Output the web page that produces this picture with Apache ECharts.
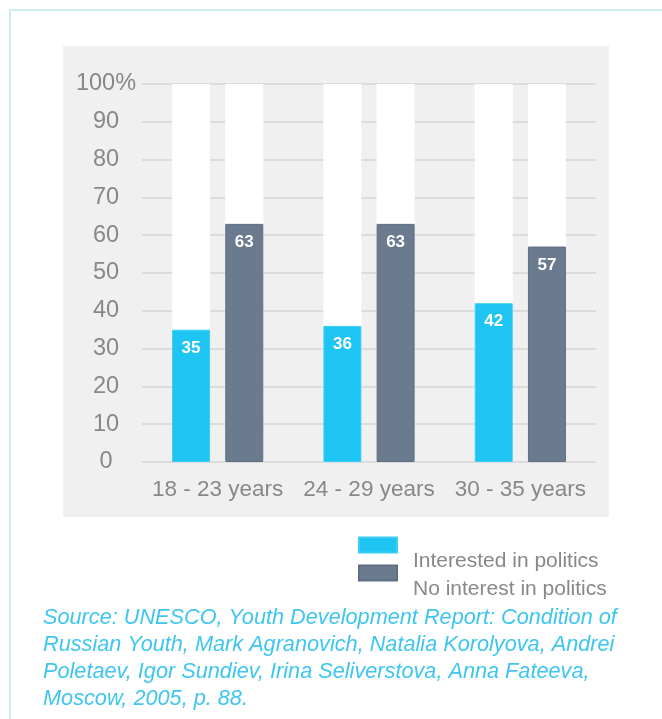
<!DOCTYPE html>
<html>
<head>
<meta charset="utf-8">
<script src="https://cdn.jsdelivr.net/npm/echarts@6/dist/echarts.min.js"></script>
<style>
html,body{margin:0;padding:0;background:#fff;}
#chart{width:662px;height:719px;}
</style>
</head>
<body>
<div id="chart"></div>
<script>
const categories = ['18 - 23 years', '24 - 29 years', '30 - 35 years'];
const interested = [35, 36, 42];
const noInterest = [63, 63, 57];
const seriesNames = ['Interested in politics', 'No interest in politics'];
const yTicks = [0, 10, 20, 30, 40, 50, 60, 70, 80, 90, 100];
const sourceLines = [
  'Source: UNESCO, Youth Development Report: Condition of',
  'Russian Youth, Mark Agranovich, Natalia Korolyova, Andrei',
  'Poletaev, Igor Sundiev, Irina Seliverstova, Anna Fateeva,',
  'Moscow, 2005, p. 88.'
];

const FONT = 'Liberation Sans, Arial, sans-serif';
const chart = echarts.init(document.getElementById('chart'), null, {renderer: 'canvas'});

const labelStyle = {
  show: true, position: 'insideTop', distance: 10,
  color: '#ffffff', fontWeight: 'bold', fontSize: 17, fontFamily: FONT
};

function legendFor(name, top) {
  return {
    data: [name], left: 358, top: top, padding: 0, itemWidth: 38, itemHeight: 15,
    icon: 'rect', selectedMode: false,
    formatter: n => '\n{a|' + n + '}',
    textStyle: {color: '#888888', fontSize: 21, fontFamily: FONT, lineHeight: 33,
      rich: {a: {color: '#888888', fontSize: 21, fontFamily: FONT, lineHeight: 33, padding: [0, 0, 0, 11]}}}
  };
}

const option = {
  backgroundColor: '#ffffff',
  animation: false,
  graphic: [
    {type: 'rect', z: -10, shape: {x: 10, y: 10, width: 700, height: 760},
     style: {fill: 'none', stroke: '#cdeaf7', lineWidth: 2}},
    {type: 'rect', z: -9, shape: {x: 63, y: 46, width: 546, height: 471},
     style: {fill: '#f0f0f0'}},
    {type: 'text', left: 43, top: 604,
     style: {text: sourceLines.join('\n'), fill: '#3ec6f0', fontSize: 21.7,
             fontStyle: 'italic', fontFamily: FONT, lineHeight: 27}}
  ],
  grid: {left: 142, right: 66, top: 84, bottom: 257},
  legend: [legendFor(seriesNames[0], 512), legendFor(seriesNames[1], 540)],
  xAxis: {
    type: 'category', data: categories,
    axisLine: {show: false}, axisTick: {show: false},
    axisLabel: {color: '#888888', fontSize: 22.5, fontFamily: FONT, margin: 16, interval: 0}
  },
  yAxis: {
    type: 'value', min: 0, max: 100, interval: 10,
    axisLine: {show: false}, axisTick: {show: false},
    splitLine: {lineStyle: {color: '#d6d6d6', width: 1.5}},
    axisLabel: {color: '#888888', fontSize: 23.5, fontFamily: FONT, align: 'center', margin: 36,
      formatter: v => yTicks.indexOf(v) >= 0 ? (v === 100 ? '100%' : String(v)) : ''}
  },
  series: [
    {name: seriesNames[0], type: 'bar', data: interested, barWidth: 38, barGap: '40%',
     showBackground: true, backgroundStyle: {color: '#ffffff'},
     itemStyle: {color: '#1ec4f2', borderColor: '#3bcdf5', borderWidth: 1},
     label: labelStyle},
    {name: seriesNames[1], type: 'bar', data: noInterest, barWidth: 38,
     showBackground: true, backgroundStyle: {color: '#ffffff'},
     itemStyle: {color: '#6a7a8f', borderColor: '#5d6e85', borderWidth: 1},
     label: labelStyle}
  ]
};
chart.setOption(option);
</script>
</body>
</html>
